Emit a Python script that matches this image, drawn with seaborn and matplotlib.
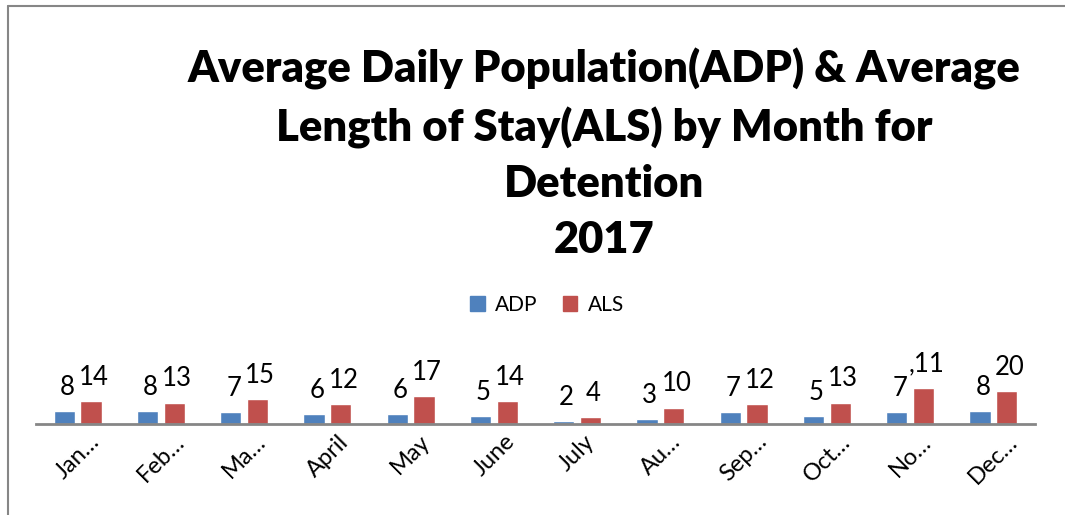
import matplotlib
matplotlib.use("Agg")
import matplotlib.pyplot as plt
import matplotlib.lines as mlines
from matplotlib.patches import Patch
import pandas as pd
import seaborn as sns

months = ["January", "February", "March", "April", "May", "June",
          "July", "August", "September", "October", "November", "December"]
tick_labels = ["Jan…", "Feb…", "Ma…", "April", "May", "June",
               "July", "Au…", "Sep…", "Oct…", "No…", "Dec…"]
adp = [8, 8, 7, 6, 6, 5, 2, 3, 7, 5, 7, 8]
als = [14, 13, 15, 12, 17, 14, 4, 10, 12, 13, 22, 20]
adp_labels = [str(v) for v in adp]
als_labels = ["14", "13", "15", "12", "17", "14", "4", "10", "12", "13", ",11", "20"]

df = pd.DataFrame({
    "month": months * 2,
    "value": adp + als,
    "series": ["ADP"] * 12 + ["ALS"] * 12,
})

sns.set_style("white")
plt.rcParams["font.family"] = ["Lato", "DejaVu Sans"]
plt.rcParams["text.color"] = "black"
plt.rcParams["xtick.color"] = "black"

fig = plt.figure(figsize=(10.65, 5.15), dpi=100)
ax = fig.add_axes([36 / 1065, 91 / 515, 999 / 1065, 94 / 515])

palette = {"ADP": "#4F81BD", "ALS": "#C0504D"}
sns.barplot(data=df, x="month", y="value", hue="series", order=months,
            palette=palette, width=0.64, gap=0.2, saturation=1,
            ax=ax, legend=False)

ax.set_ylim(0, 57)
ax.set_xlim(-0.5, 11.5)
ax.set_xlabel("")
ax.set_ylabel("")
ax.set_yticks([])
ax.set_xticks(range(12))
ax.set_xticklabels(tick_labels, rotation=45, ha="center", va="top", fontsize=17)
ax.tick_params(axis="x", length=0, pad=5)
for side in ["top", "right", "left"]:
    ax.spines[side].set_visible(False)
ax.spines["bottom"].set_color("#868686")
ax.spines["bottom"].set_linewidth(2)

# data labels, nudged a little to the right like the original
for container, labels in zip(ax.containers, [adp_labels, als_labels]):
    for bar, lab in zip(container, labels):
        ax.annotate(lab, (bar.get_x() + bar.get_width() / 2, bar.get_height()),
                    xytext=(2, 8), textcoords="offset points",
                    ha="center", va="bottom", fontsize=18.5, annotation_clip=False)

fig.text(604 / 1065, 1 - 154 / 515,
         "Average Daily Population(ADP) & Average\nLength of Stay(ALS) by Month for\nDetention\n2017",
         ha="center", va="center", fontsize=31.3, fontweight="heavy", linespacing=1.47)

handles = [Patch(color=palette["ADP"], label="ADP"), Patch(color=palette["ALS"], label="ALS")]
fig.legend(handles=handles, loc="center", bbox_to_anchor=(547 / 1065, 1 - 305 / 515),
           ncol=2, frameon=False, fontsize=15, handlelength=0.7, handleheight=0.7,
           handletextpad=0.5, columnspacing=1.2)

# chart border (top and left edges only)
fig.add_artist(mlines.Line2D([8 / 1065, 1], [1 - 6 / 515, 1 - 6 / 515],
                             transform=fig.transFigure, color="#868686", lw=1.5))
fig.add_artist(mlines.Line2D([8 / 1065, 8 / 1065], [0, 1 - 6 / 515],
                             transform=fig.transFigure, color="#868686", lw=1.5))

fig.savefig("out.png", dpi=100)
